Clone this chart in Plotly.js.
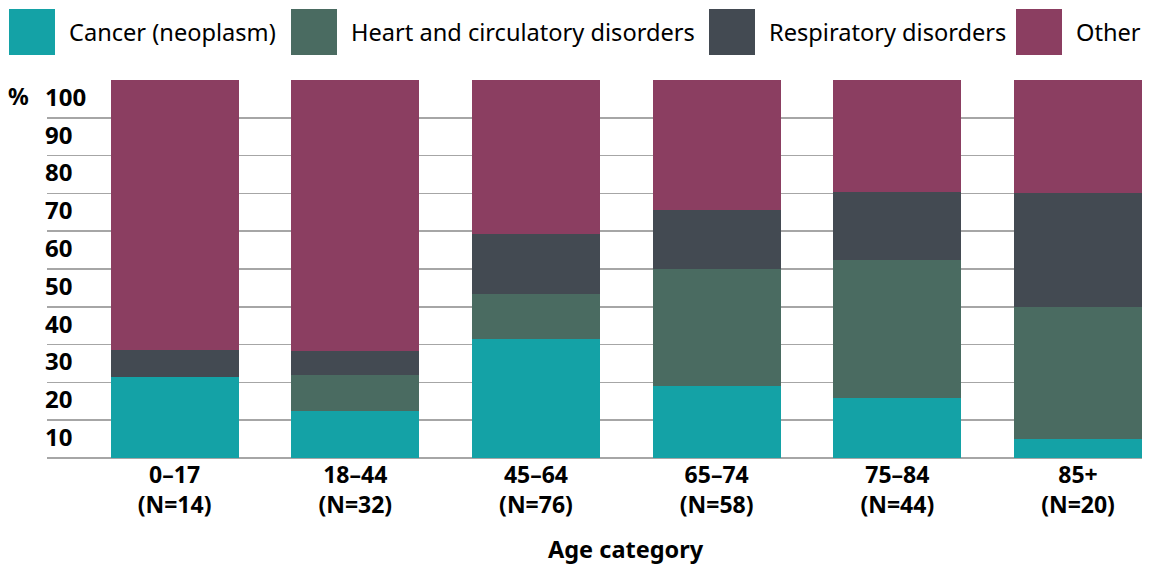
<!DOCTYPE html>
<html>
<head>
<meta charset="utf-8">
<script src="https://cdn.plot.ly/plotly-3.0.1.min.js"></script>
<style>html,body{margin:0;padding:0;background:#fff;}#chart{width:1154px;height:565px;}</style>
</head>
<body>
<div id="chart"></div>
<script>
// ---- data ----
var categories = ["0–17<br>(N=14)", "18–44<br>(N=32)", "45–64<br>(N=76)", "65–74<br>(N=58)", "75–84<br>(N=44)", "85+<br>(N=20)"];
var seriesNames = ["Cancer (neoplasm)", "Heart and circulatory disorders", "Respiratory disorders", "Other"];
var cancer = [21.4, 12.5, 31.6, 19.0, 15.9, 5.0];
var heart = [0, 9.4, 11.8, 31.0, 36.4, 35.0];
var respiratory = [7.1, 6.3, 15.8, 15.5, 18.2, 30.0];
var other = [71.4, 71.9, 40.8, 34.5, 29.5, 30.0];
var yTickValues = [100, 90, 80, 70, 60, 50, 40, 30, 20, 10];
var yTickLabels = ["100", "90", "80", "70", "60", "50", "40", "30", "20", "10"];
var yUnit = "%";
var xTitle = "Age category";

// ---- styling ----
var colors = ["#14a2a6", "#4a6b61", "#434a52", "#8b3e61"];
var FONT = "Noto Sans, sans-serif";
var W = 1154, H = 565;
var M = {l: 47, r: 12, t: 80, b: 107};
var plotW = W - M.l - M.r, plotH = H - M.t - M.b;
function px(xp) { return (xp - M.l) / plotW; }
function py(yp) { return 1 + (M.t - yp) / plotH; }

var seriesValues = [cancer, heart, respiratory, other];
var traces = seriesValues.map(function (vals, i) {
  return {
    type: "bar", x: categories, y: vals, name: seriesNames[i],
    marker: {color: colors[i], line: {width: 0}},
    hoverinfo: "name+y", showlegend: false
  };
});

var annotations = [];
var shapes = [];
yTickValues.forEach(function (v, i) {
  annotations.push({
    xref: "paper", yref: "y", x: 0, y: v - 4.3, xanchor: "left", yanchor: "middle",
    xshift: -4, text: "<b>" + yTickLabels[i] + "</b>", showarrow: false,
    font: {family: FONT, size: 24, color: "#000"}
  });
});
annotations.push({
  xref: "paper", yref: "y", x: 0, y: 95.7, xanchor: "left", yanchor: "middle",
  xshift: -41, text: "<b>" + yUnit + "</b>", showarrow: false,
  font: {family: FONT, size: 23, color: "#000"}
});
annotations.push({
  xref: "x", yref: "paper", x: 2.5, y: py(549), xanchor: "center", yanchor: "middle",
  text: "<b>" + xTitle + "</b>", showarrow: false,
  font: {family: FONT, size: 23.5, color: "#000"}
});

// manual legend
var legendSquareX = [9, 291, 709, 1016];
seriesNames.forEach(function (n, i) {
  var x0 = legendSquareX[i];
  shapes.push({
    type: "rect", xref: "paper", yref: "paper",
    x0: px(x0), x1: px(x0 + 46), y0: py(55), y1: py(9),
    fillcolor: colors[i], line: {width: 0}
  });
  annotations.push({
    xref: "paper", yref: "paper", x: px(x0 + 58), y: py(32), xanchor: "left", yanchor: "middle",
    text: n, showarrow: false, font: {family: FONT, size: 23.6, color: "#000"}
  });
});

var layout = {
  width: W, height: H,
  margin: M,
  paper_bgcolor: "#fff", plot_bgcolor: "#fff",
  barmode: "stack", bargap: 0.292,
  showlegend: false,
  font: {family: FONT, color: "#000"},
  xaxis: {
    type: "category", range: [-0.706, 5.354], fixedrange: true,
    showgrid: false, zeroline: false, showline: false, ticks: "",
    tickfont: {family: FONT, size: 23, color: "#000", weight: "bold"},
    ticklabelstandoff: 1
  },
  yaxis: {
    range: [0, 100], dtick: 10, tick0: 0, fixedrange: true,
    showgrid: true, gridcolor: "#a6a6a6", gridwidth: 1.5,
    zeroline: true, zerolinecolor: "#a6a6a6", zerolinewidth: 1.5,
    showticklabels: false, ticks: "", showline: false
  },
  annotations: annotations,
  shapes: shapes
};

Plotly.newPlot("chart", traces, layout, {displayModeBar: false, staticPlot: true});
</script>
</body>
</html>
